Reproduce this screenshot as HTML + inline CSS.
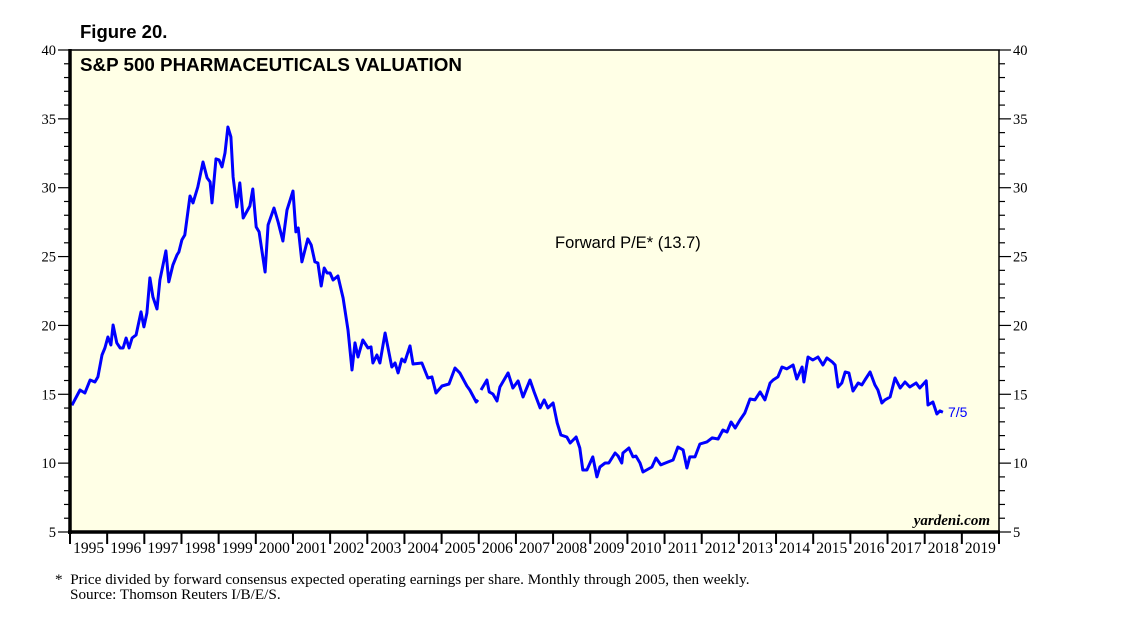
<!DOCTYPE html>
<html><head><meta charset="utf-8"><style>
body{margin:0;background:#fff;width:1138px;height:621px;overflow:hidden}
svg text{font-family:"Liberation Sans",sans-serif}
</style></head><body>
<svg id="chart" width="1138" height="621" viewBox="0 0 1138 621" xmlns="http://www.w3.org/2000/svg">
<text x="80" y="38" font-size="18.5" font-weight="bold">Figure 20.</text>
<rect x="70" y="50" width="929" height="482" fill="#FFFFE6"/>
<g id="axes"></g>
<g id="series"></g>
<rect x="70" y="50" width="929" height="482" fill="none" stroke="#000" stroke-width="1.5"/>
<line x1="70" y1="49" x2="70" y2="534" stroke="#000" stroke-width="3.5"/>
<line x1="68" y1="532" x2="1000" y2="532" stroke="#000" stroke-width="3.5"/>
<text x="80" y="71" font-size="18.8" font-weight="bold">S&amp;P 500 PHARMACEUTICALS VALUATION</text>
<text x="555" y="248" font-size="16.5">Forward P/E* (13.7)</text>
<text x="948" y="417" font-size="14" fill="#0000ff">7/5</text>
<text x="990" y="525" font-size="15" font-weight="bold" font-style="italic" text-anchor="end" style="font-family:'Liberation Serif',serif">yardeni.com</text>
<text x="55" y="584" font-size="15.2" style="font-family:'Liberation Serif',serif">*&#160;&#160;Price divided by forward consensus expected operating earnings per share. Monthly through 2005, then weekly.</text>
<text x="70" y="599" font-size="15.2" style="font-family:'Liberation Serif',serif">Source: Thomson Reuters I/B/E/S.</text>
</svg>
<script>
const yTicks=[5,10,15,20,25,30,35,40];
const xYears=[1995,1996,1997,1998,1999,2000,2001,2002,2003,2004,2005,2006,2007,2008,2009,2010,2011,2012,2013,2014,2015,2016,2017,2018,2019];
const monthlyDates=[1995.05,1995.27,1995.40,1995.54,1995.67,1995.75,1995.86,1995.94,1996.02,1996.10,1996.16,1996.26,1996.35,1996.43,1996.51,1996.59,1996.67,1996.78,1996.91,1996.99,1997.07,1997.15,1997.23,1997.34,1997.42,1997.58,1997.66,1997.77,1997.88,1997.93,1998.01,1998.09,1998.23,1998.31,1998.44,1998.58,1998.69,1998.77,1998.82,1998.93,1999.01,1999.09,1999.17,1999.25,1999.33,1999.39,1999.49,1999.57,1999.66,1999.84,1999.92,2000.01,2000.09,2000.17,2000.25,2000.33,2000.49,2000.60,2000.73,2000.84,2001.00,2001.08,2001.14,2001.24,2001.40,2001.49,2001.59,2001.67,2001.76,2001.84,2001.92,2002.00,2002.08,2002.21,2002.35,2002.48,2002.59,2002.67,2002.75,2002.88,2003.02,2003.10,2003.15,2003.26,2003.34,2003.48,2003.66,2003.75,2003.83,2003.93,2004.01,2004.15,2004.23,2004.47,2004.63,2004.74,2004.85,2005.01,2005.20,2005.36,2005.49,2005.68,2005.76,2005.93,2005.98];
const monthlyPE=[14.2,15.31,15.09,16.04,15.89,16.26,17.85,18.36,19.16,18.58,20.03,18.73,18.36,18.36,19.09,18.36,19.09,19.31,20.98,19.89,20.90,23.45,22.07,21.19,23.30,25.41,23.16,24.39,25.12,25.34,26.21,26.57,29.40,28.90,30.05,31.87,30.71,30.42,28.90,32.09,32.02,31.51,32.53,34.41,33.69,30.78,28.60,30.35,27.80,28.67,29.91,27.15,26.79,25.33,23.88,27.30,28.53,27.51,26.13,28.38,29.76,26.79,27.08,24.61,26.28,25.84,24.61,24.53,22.86,24.17,23.81,23.81,23.30,23.59,21.99,19.67,16.76,18.73,17.71,18.94,18.36,18.44,17.27,17.85,17.27,19.45,16.98,17.27,16.55,17.56,17.35,18.51,17.20,17.27,16.18,16.26,15.09,15.60,15.75,16.91,16.55,15.60,15.31,14.44,14.59];
const weeklyDates=[2006.06,2006.22,2006.28,2006.38,2006.49,2006.57,2006.79,2006.92,2007.06,2007.19,2007.38,2007.49,2007.65,2007.76,2007.86,2008.00,2008.11,2008.21,2008.37,2008.46,2008.62,2008.72,2008.80,2008.91,2009.07,2009.18,2009.26,2009.40,2009.50,2009.67,2009.75,2009.85,2009.88,2010.04,2010.15,2010.23,2010.34,2010.42,2010.66,2010.77,2010.90,2011.09,2011.23,2011.36,2011.50,2011.60,2011.68,2011.82,2011.95,2012.14,2012.28,2012.44,2012.57,2012.68,2012.79,2012.90,2013.03,2013.16,2013.30,2013.43,2013.57,2013.70,2013.84,2013.92,2014.05,2014.16,2014.29,2014.46,2014.56,2014.70,2014.75,2014.86,2014.99,2015.13,2015.26,2015.37,2015.51,2015.59,2015.67,2015.77,2015.86,2015.96,2016.07,2016.21,2016.31,2016.39,2016.53,2016.66,2016.74,2016.85,2016.93,2017.07,2017.20,2017.34,2017.47,2017.60,2017.77,2017.87,2018.04,2018.09,2018.22,2018.33,2018.41,2018.49];
const weeklyPE=[15.31,16.04,15.17,15.02,14.51,15.53,16.55,15.46,15.97,14.80,16.04,15.17,14.01,14.59,14.01,14.37,12.92,12.04,11.90,11.46,11.90,11.10,9.50,9.50,10.45,9.00,9.72,10.01,10.01,10.74,10.52,10.01,10.74,11.10,10.45,10.52,10.01,9.36,9.72,10.37,9.87,10.08,10.23,11.17,10.96,9.65,10.45,10.45,11.39,11.54,11.83,11.75,12.41,12.26,12.99,12.55,13.13,13.64,14.66,14.59,15.17,14.59,15.82,16.04,16.26,16.98,16.84,17.13,16.11,16.98,15.89,17.71,17.49,17.71,17.13,17.64,17.35,17.13,15.53,15.82,16.62,16.55,15.24,15.82,15.68,16.04,16.62,15.68,15.31,14.37,14.59,14.80,16.18,15.46,15.89,15.53,15.82,15.46,15.97,14.22,14.44,13.57,13.79,13.70];

const NS='http://www.w3.org/2000/svg';
const L=70,R=999,T=50,B=532;
const xs=t=>L+(t-1995)/25*(R-L);
const ys=v=>B-(v-5)/35*(B-T);
function mk(tag,attrs,parent){const e=document.createElementNS(NS,tag);for(const k in attrs)e.setAttribute(k,attrs[k]);parent.appendChild(e);return e;}
const axes=document.getElementById('axes');
for(let v=5;v<=40;v++){
  const y=ys(v),major=v%5===0,len=major?12:6;
  const a=mk('line',{x1:L-len,y1:y,x2:L,y2:y,stroke:'#000','stroke-width':1.2},axes);
  
  
  const b=mk('line',{x1:R,y1:y,x2:R+len,y2:y,stroke:'#000','stroke-width':1.2},axes);
  
  
}
yTicks.forEach(v=>{
  const y=ys(v);
  const t1=mk('text',{x:L-14,y:y+5,'font-size':14.5,'text-anchor':'end',style:"font-family:'Liberation Serif',serif"},axes);
  t1.textContent=v;
  
  
  const t2=mk('text',{x:R+14,y:y+5,'font-size':14.5,style:"font-family:'Liberation Serif',serif"},axes);
  t2.textContent=v;
  
  
});
xYears.forEach(yr=>{
  const x=xs(yr);
  const tk=mk('line',{x1:x,y1:B,x2:x,y2:B+12,stroke:'#000','stroke-width':2},axes);
  
  
  const lb=mk('text',{x:xs(yr+0.5),y:B+21,'font-size':15.5,'text-anchor':'middle',style:"font-family:'Liberation Serif',serif"},axes);
  lb.textContent=yr;
  
  
});
const tkEnd=mk('line',{x1:xs(2020),y1:B,x2:xs(2020),y2:B+12,stroke:'#000','stroke-width':2},axes);


const ser=document.getElementById('series');
function line(d,v,name){
  const p=d.map((t,i)=>(i?'L':'M')+xs(t).toFixed(1)+','+ys(v[i]).toFixed(1)).join('');
  const e=mk('path',{d:p,fill:'none',stroke:'#0000ff','stroke-width':3,'stroke-linejoin':'round'},ser);
  
  
}
line(monthlyDates,monthlyPE,'forward-pe-monthly-line');
line(weeklyDates,weeklyPE,'forward-pe-weekly-line');
</script>
</body></html>
